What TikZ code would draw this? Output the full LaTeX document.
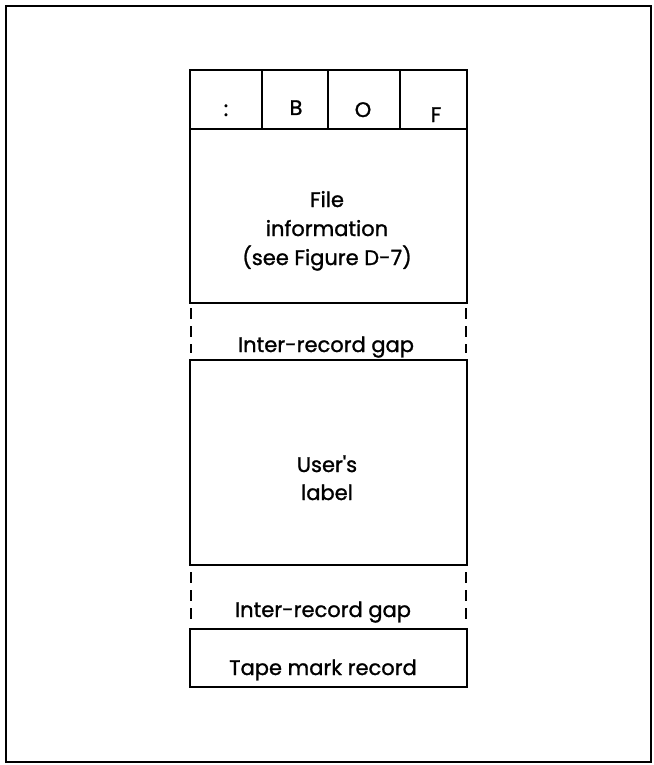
\documentclass[tikz,border=0pt]{standalone}
\usepackage{fontspec}
\setmainfont{Poppins}[Ligatures=TeXOff, FakeBold=1.2]
\begin{document}
\begin{tikzpicture}[x=1pt,y=-1pt,
  every node/.style={inner sep=0pt, outer sep=0pt},
  txt/.style={font=\fontsize{21}{29}\selectfont, anchor=base, align=center},
  cell/.style={draw, line width=1.3pt, minimum height=59pt},
  rec/.style={draw, line width=2.6pt, minimum width=277pt},
  gapline/.style={line width=2.8pt, dash pattern=on 11pt off 7pt}
]
\useasboundingbox (0,0) rectangle (653,765);
\draw[line width=1.6pt] (6,6) rectangle (651,762);

% BOF row
\node[cell, minimum width=72pt] (c1) at (226,99.5) {};
\node[cell, minimum width=66pt] (c2) at (295,99.5) {};
\node[cell, minimum width=72pt] (c3) at (364,99.5) {};
\node[cell, minimum width=67pt] (c4) at (433.5,99.5) {};
\node[txt] (t1) at (226,116) {:};
\node[txt] (t2) at (296,115) {B};
\node[txt] (t3) at (363,117) {O};
\node[txt] (t4) at (436,122) {F};

% file information record (with BOF row)
\node[rec, minimum height=233pt] (fi) at (328.5,186.5) {};
\draw[line width=2.6pt] (c1.south west) -- (c4.south east);
\node[txt] (fitext) at (327,265) {File\\information\\(see Figure D-7)};

% user's label record
\node[rec, minimum height=205pt] (user) at (328.5,462.5) {};
\node[txt, font=\fontsize{21}{28}\selectfont] (usertext) at (327,500) {User's\\label};

% tape mark record
\node[rec, minimum height=58pt] (tape) at (328.5,658) {};
\node[txt] (tapetext) at (323,675) {Tape mark record};

% gaps
\node[txt] (gap1) at (326,352) {Inter-record gap};
\node[txt] (gap2) at (323,617) {Inter-record gap};
\draw[gapline] ([xshift=1pt,yshift=-5pt]fi.south west) -- ([xshift=1pt,yshift=7pt]user.north west);
\draw[gapline] ([xshift=-1pt,yshift=-5pt]fi.south east) -- ([xshift=-1pt,yshift=7pt]user.north east);
\draw[gapline] ([xshift=1pt,yshift=-7pt]user.south west) -- ([xshift=1pt,yshift=7pt]tape.north west);
\draw[gapline] ([xshift=-1pt,yshift=-7pt]user.south east) -- ([xshift=-1pt,yshift=7pt]tape.north east);
\end{tikzpicture}
\end{document}
